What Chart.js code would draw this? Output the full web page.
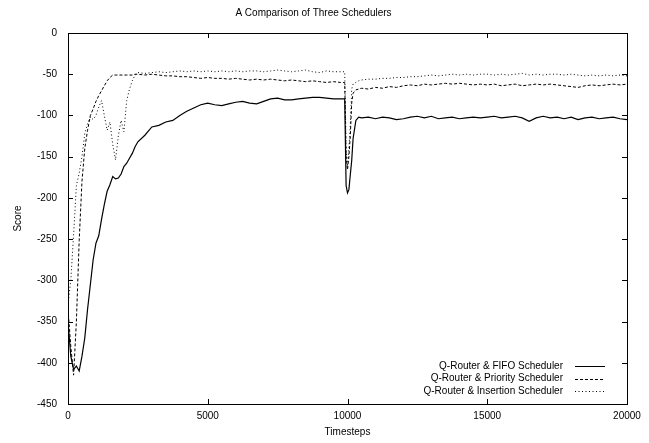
<!DOCTYPE html>
<html>
<head>
<meta charset="utf-8">
<script src="https://cdn.jsdelivr.net/npm/chart.js"></script>
<style>
  html, body { margin: 0; padding: 0; background: #fff; }
  #wrap { width: 649px; height: 443px; }
</style>
</head>
<body>
<div id="wrap"><canvas id="myChart"></canvas></div>
<script>
var timesteps = [
  0, 100, 200, 300, 400, 500, 600, 700, 800, 900, 1000, 1100, 1200, 1300, 1400, 1500, 1600, 1700, 1800, 1900, 2000, 2100, 2200, 2300, 2400,
  2500, 2750, 3000, 3250, 3500, 3750, 4000, 4250, 4500, 4750, 5000, 5250, 5500, 5750, 6000, 6250, 6500, 6750, 7000, 7250, 7500, 7750, 8000, 8250, 8500, 8750, 9000, 9250, 9500, 9750,
  9900, 9950, 10000, 10050, 10100, 10150, 10200, 10300, 10400,
  10500, 10750, 11000, 11250, 11500, 11750, 12000, 12250, 12500, 12750, 13000, 13250, 13500, 13750, 14000, 14250, 14500, 14750, 15000, 15250, 15500, 15750, 16000, 16250, 16500, 16750, 17000, 17250, 17500, 17750, 18000, 18250, 18500, 18750, 19000, 19250, 19500, 19750, 20000
];

var fifoScores = [
  -350, -392, -408, -404, -410, -392, -370, -335, -305, -275, -255, -246, -226, -208, -192, -184, -174, -177, -176, -171, -162, -158, -152, -146, -138,
  -132, -124, -114, -112, -108, -106, -100, -95, -91, -87, -85, -87, -88, -86, -84, -83, -85, -86, -83, -80, -79, -81, -81, -80, -79, -78, -78, -79, -80, -80,
  -80, -185, -194, -190, -172, -155, -128, -106, -102,
  -103, -102, -104, -102, -103, -105, -104, -102, -101, -103, -101, -104, -103, -102, -104, -103, -102, -103, -102, -101, -103, -102, -101, -103, -107, -103, -101, -103, -102, -104, -102, -105, -103, -102, -104, -103, -102, -104, -105
];

var priorityScores = [
  -335, -380, -415, -350, -252, -180, -140, -118, -100, -92, -83, -76, -70, -64, -58, -54, -51, -51, -51, -51, -51, -51, -51, -51, -50,
  -50, -51, -50, -51, -52, -52, -53, -53, -54, -55, -54, -55, -55, -56, -55, -56, -57, -56, -57, -56, -57, -58, -57, -58, -59, -58, -59, -60, -59, -60,
  -60, -150, -166, -150, -125, -85, -73, -69, -68,
  -67, -68, -66, -67, -65, -66, -64, -63, -64, -62, -63, -62, -61, -62, -61, -62, -63, -62, -63, -62, -64, -63, -62, -64, -63, -62, -63, -62, -63, -64, -65, -66, -64, -63, -64, -63, -62, -63, -62
];

var insertionScores = [
  -330, -300, -245, -185, -170, -150, -122, -110, -102, -105, -100, -90, -82, -100, -118, -108, -135, -154, -125, -106, -120, -82, -68, -58, -51,
  -48, -49, -48, -47, -48, -47, -46, -47, -46, -47, -46, -47, -46, -47, -46, -47, -46, -46, -47, -46, -45, -46, -47, -46, -45, -47, -48, -46, -47, -47,
  -47, -140, -162, -140, -112, -68, -62, -60, -58,
  -57, -56, -56, -55, -55, -54, -54, -53, -53, -52, -51, -52, -51, -50, -51, -50, -51, -50, -50, -51, -50, -51, -50, -49, -51, -50, -51, -50, -50, -51, -50, -51, -52, -51, -52, -51, -52, -51, -52
];

var seriesLabels = ["Q-Router & FIFO Scheduler", "Q-Router & Priority Scheduler", "Q-Router & Insertion Scheduler"];
var xTicks = [0, 5000, 10000, 15000, 20000];
var yTicks = [0, -50, -100, -150, -200, -250, -300, -350, -400, -450];

function pts(ys) {
  return timesteps.map(function (t, i) { return { x: t, y: ys[i] }; });
}

var FONT = { family: "'Liberation Sans', Arial, sans-serif", size: 10 };

// gnuplot style box with inward ticks on all four sides
var frame = {
  id: 'frame',
  afterDatasetsDraw: function (chart) {
    var ctx = chart.ctx, a = chart.chartArea;
    var sx = chart.scales.x, sy = chart.scales.y;
    ctx.save();
    ctx.strokeStyle = '#000';
    ctx.lineWidth = 1;
    ctx.setLineDash([]);
    ctx.beginPath();
    xTicks.forEach(function (v) {
      var px = Math.round(sx.getPixelForValue(v)) + 0.5;
      ctx.moveTo(px, a.bottom); ctx.lineTo(px, a.bottom - 5);
      ctx.moveTo(px, a.top); ctx.lineTo(px, a.top + 5);
    });
    yTicks.forEach(function (v) {
      var py = Math.round(sy.getPixelForValue(v)) + 0.5;
      ctx.moveTo(a.left, py); ctx.lineTo(a.left + 5, py);
      ctx.moveTo(a.right, py); ctx.lineTo(a.right - 5, py);
    });
    ctx.stroke();
    ctx.strokeRect(Math.round(a.left) + 0.5, Math.round(a.top) + 0.5,
      Math.round(a.right - a.left), Math.round(a.bottom - a.top));
    ctx.restore();
  }
};

// key in the lower right corner, text first then the line sample
var key = {
  id: 'key',
  afterDraw: function (chart) {
    var ctx = chart.ctx, a = chart.chartArea;
    ctx.save();
    ctx.font = FONT.size + 'px ' + FONT.family;
    ctx.fillStyle = '#000';
    ctx.textAlign = 'right';
    ctx.textBaseline = 'middle';
    var textRight = a.right - 64;
    var lineStart = a.right - 52, lineEnd = a.right - 22;
    chart.data.datasets.forEach(function (ds, i) {
      var y = a.bottom - 38 + i * 12.5;
      ctx.fillText(ds.label, textRight, y);
      ctx.strokeStyle = ds.borderColor;
      ctx.lineWidth = 1;
      ctx.setLineDash(ds.borderDash || []);
      ctx.beginPath();
      ctx.moveTo(lineStart, Math.round(y) + 0.5);
      ctx.lineTo(lineEnd, Math.round(y) + 0.5);
      ctx.stroke();
    });
    ctx.restore();
  }
};

var ctx = document.getElementById("myChart").getContext('2d');
var myChart = new Chart(ctx, {
  type: 'line',
  data: {
    datasets: [{
      label: seriesLabels[0],
      data: pts(fifoScores),
      borderColor: '#000',
      borderWidth: 1.2,
      borderDash: []
    }, {
      label: seriesLabels[1],
      data: pts(priorityScores),
      borderColor: '#000',
      borderWidth: 1,
      borderDash: [3, 2]
    }, {
      label: seriesLabels[2],
      data: pts(insertionScores),
      borderColor: '#000',
      borderWidth: 1,
      borderDash: [1, 2.5]
    }]
  },
  options: {
    responsive: true,
    maintainAspectRatio: false,
    animation: false,
    elements: { point: { radius: 0 }, line: { tension: 0 } },
    layout: { padding: { left: 0, right: 22, top: 0, bottom: 0 } },
    plugins: {
      legend: { display: false },
      tooltip: { enabled: false },
      title: {
        display: true,
        text: 'A Comparison of Three Schedulers',
        color: '#000',
        font: { family: FONT.family, size: 10, weight: 'normal' },
        padding: { top: 7, bottom: 14 }
      }
    },
    scales: {
      x: {
        type: 'linear',
        min: 0,
        max: 20000,
        afterBuildTicks: function (s) { s.ticks = xTicks.map(function (v) { return { value: v }; }); },
        afterFit: function (s) { s.height = 39; },
        grid: { display: false, drawTicks: false },
        border: { display: false },
        ticks: { color: '#000', font: FONT, padding: 6, maxRotation: 0,
          callback: function (v) { return String(v); } },
        title: { display: true, text: 'Timesteps', color: '#000', font: FONT, padding: { top: 0, bottom: 5 } }
      },
      y: {
        type: 'linear',
        min: -450,
        max: 0,
        afterBuildTicks: function (s) { s.ticks = yTicks.map(function (v) { return { value: v }; }); },
        afterFit: function (s) { s.width = 68; },
        grid: { display: false, drawTicks: false },
        border: { display: false },
        ticks: { color: '#000', font: FONT, padding: 11,
          callback: function (v) { return String(v); } },
        title: { display: true, text: 'Score', color: '#000', font: FONT, padding: { top: 12, bottom: 0 } }
      }
    }
  },
  plugins: [frame, key]
});
</script>
</body>
</html>
